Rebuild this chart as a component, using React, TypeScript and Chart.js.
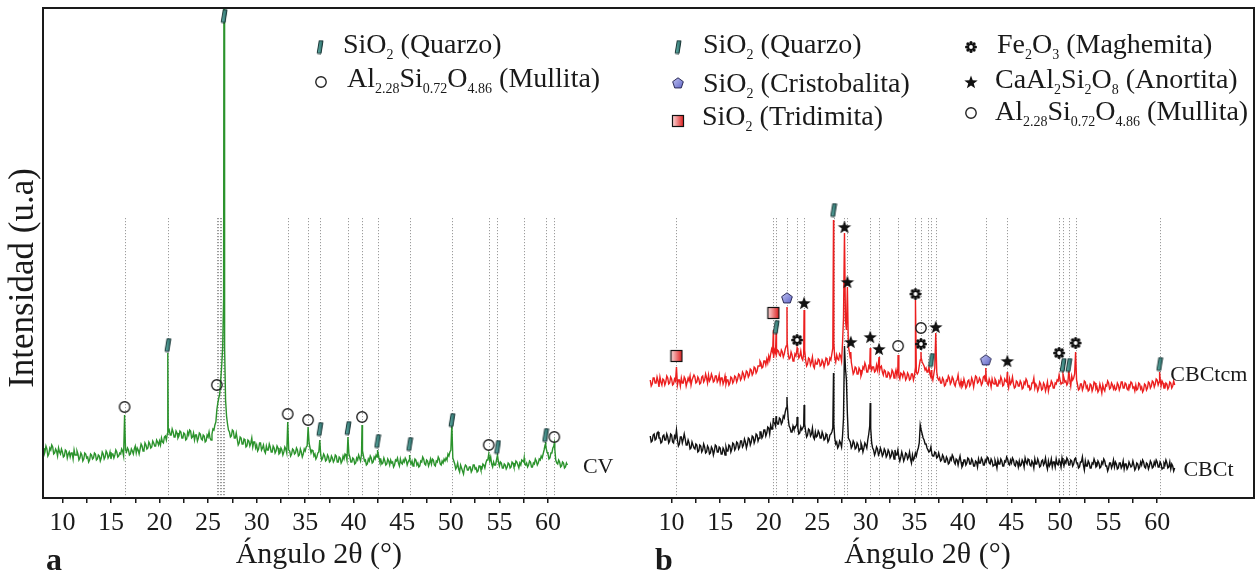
import { useEffect, useRef } from 'react';
import { Chart, registerables } from 'chart.js';

Chart.register(...registerables);

// ---- diffraction scans (0.1° step), intensities in arbitrary units ----
const SCAN_STEP = 0.1;
const CV_START = 8.0;
const CB_START = 7.8;

// CV (panel a), background counts from 8.0° to 62.0°
const CV_COUNTS = [
  50, 43, 46, 52, 49, 42, 44, 50, 48, 53, 51, 44, 45, 49, 47, 42, 50, 46, 44, 49,
  46, 41, 42, 48, 47, 40, 44, 46, 41, 45, 45, 39, 48, 43, 43, 47, 44, 38, 40, 45,
  43, 37, 39, 45, 44, 40, 41, 36, 38, 44, 43, 39, 40, 45, 44, 38, 39, 43, 42, 37,
  40, 46, 44, 39, 41, 47, 45, 40, 42, 46, 39, 44, 44, 40, 43, 48, 46, 41, 42, 45,
  44, 49, 47, 42, 43, 48, 46, 50, 48, 43, 44, 49, 47, 44, 49, 52, 45, 50, 48, 44,
  49, 54, 52, 47, 48, 55, 53, 49, 50, 56, 54, 50, 51, 57, 55, 52, 52, 58, 56, 53,
  57, 53, 60, 56, 55, 61, 62, 58, 64, 66, 68, 63, 63, 69, 66, 61, 61, 67, 65, 60,
  62, 67, 66, 60, 60, 65, 64, 58, 59, 66, 63, 68, 67, 60, 61, 65, 58, 63, 63, 57,
  60, 65, 64, 59, 58, 63, 62, 56, 57, 63, 61, 66, 60, 58, 64, 69, 68, 73, 76, 88,
  95, 100, 104, 118, 132, 150, 200, 150, 98, 82, 74, 68, 66, 61, 62, 68, 67, 60, 60, 65,
  59, 53, 55, 61, 60, 54, 54, 59, 58, 51, 52, 58, 57, 52, 55, 60, 51, 56, 56, 50,
  53, 47, 49, 55, 55, 48, 50, 53, 47, 45, 52, 48, 48, 54, 51, 46, 46, 52, 50, 45,
  47, 52, 50, 44, 45, 50, 48, 43, 46, 51, 49, 45, 52, 48, 47, 42, 44, 49, 48, 44,
  45, 50, 48, 42, 43, 49, 46, 41, 44, 49, 47, 51, 52, 58, 55, 50, 45, 48, 47, 42,
  44, 39, 41, 45, 46, 47, 43, 38, 40, 44, 42, 37, 38, 43, 41, 36, 37, 42, 40, 36,
  38, 43, 42, 36, 36, 41, 40, 35, 37, 42, 39, 44, 43, 38, 46, 44, 41, 36, 36, 40,
  39, 34, 35, 40, 38, 43, 40, 37, 44, 47, 42, 37, 38, 33, 34, 39, 37, 42, 40, 35,
  36, 41, 39, 43, 41, 45, 40, 36, 38, 34, 35, 40, 37, 33, 34, 39, 37, 33, 38, 35,
  36, 31, 33, 38, 37, 40, 35, 32, 39, 35, 34, 38, 36, 40, 38, 33, 36, 38, 37, 34,
  37, 32, 34, 39, 38, 33, 35, 31, 32, 37, 36, 41, 39, 34, 33, 38, 37, 32, 35, 39,
  34, 39, 38, 33, 32, 37, 36, 41, 39, 34, 33, 37, 35, 39, 37, 40, 38, 44, 42, 46,
  48, 60, 40, 37, 34, 29, 31, 35, 29, 26, 33, 30, 27, 24, 30, 33, 32, 28, 28, 31,
  31, 26, 28, 33, 33, 29, 30, 26, 27, 32, 32, 28, 29, 34, 33, 30, 35, 38, 38, 42,
  37, 41, 34, 31, 36, 33, 33, 38, 37, 36, 32, 36, 35, 30, 30, 34, 33, 29, 31, 35,
  34, 30, 31, 36, 35, 31, 32, 37, 36, 33, 30, 35, 33, 38, 37, 36, 34, 33, 35, 31,
  33, 37, 36, 31, 31, 35, 34, 39, 37, 33, 35, 39, 38, 42, 40, 44, 48, 53, 50, 46,
  44, 39, 40, 45, 45, 50, 52, 49, 38, 35, 34, 38, 36, 31, 32, 36, 35, 30, 31, 35,
  33,
];
// CV reflections: [2θ, intensity]
const CV_PEAKS: [number, number][] = [
  [16.4, 83], [20.85, 145], [26.64, 640], [33.2, 76], [35.3, 71], [36.5, 58],
  [39.4, 61], [40.85, 73], [42.45, 48], [45.75, 43], [50.1, 75], [53.9, 44],
  [54.8, 43], [57.55, 40], [59.75, 56], [60.65, 55],
];

// CBCtcm (panel b, upper trace), background counts from 7.8° to 61.8°
const CBCTCM_COUNTS = [
  58, 52, 54, 60, 60, 55, 55, 61, 57, 51, 61, 56, 53, 59, 58, 53, 56, 62, 60, 54,
  55, 61, 59, 53, 54, 59, 57, 63, 53, 58, 58, 52, 60, 55, 55, 61, 59, 52, 56, 60,
  57, 62, 53, 58, 58, 63, 61, 55, 56, 61, 59, 54, 55, 61, 62, 56, 58, 64, 60, 55,
  63, 57, 59, 64, 61, 56, 57, 62, 62, 56, 58, 63, 55, 60, 60, 54, 57, 62, 54, 58,
  58, 53, 55, 61, 60, 55, 57, 62, 61, 56, 59, 64, 63, 58, 60, 66, 64, 59, 62, 67,
  66, 61, 63, 69, 68, 63, 65, 71, 70, 65, 67, 72, 72, 77, 75, 70, 71, 77, 77, 73,
  79, 75, 82, 78, 84, 89, 86, 80, 88, 85, 84, 88, 87, 83, 82, 88, 86, 81, 84, 89,
  92, 96, 84, 79, 80, 86, 83, 77, 78, 84, 82, 88, 86, 80, 82, 87, 80, 78, 84, 88,
  78, 72, 74, 80, 79, 73, 76, 81, 72, 70, 77, 74, 74, 79, 78, 72, 73, 78, 76, 71,
  75, 80, 79, 73, 74, 80, 78, 84, 90, 95, 80, 76, 83, 79, 78, 84, 82, 77, 95, 120,
  130, 118, 108, 120, 92, 86, 80, 76, 70, 64, 66, 71, 70, 64, 64, 70, 68, 62, 65, 71,
  69, 75, 72, 66, 66, 72, 70, 74, 68, 71, 71, 66, 67, 73, 68, 75, 67, 71, 72, 66,
  63, 68, 67, 61, 61, 66, 65, 60, 62, 68, 66, 60, 64, 68, 62, 70, 62, 59, 65, 64,
  61, 66, 64, 58, 60, 65, 63, 58, 59, 64, 64, 58, 62, 70, 66, 64, 66, 72, 78, 80,
  76, 74, 72, 68, 70, 66, 67, 71, 64, 61, 62, 58, 64, 70, 68, 66, 60, 58, 60, 55,
  55, 60, 58, 52, 53, 58, 57, 62, 60, 54, 56, 61, 59, 54, 52, 57, 58, 63, 55, 52,
  57, 51, 53, 59, 55, 50, 52, 57, 58, 52, 54, 60, 57, 51, 57, 62, 61, 55, 56, 60,
  58, 53, 55, 61, 62, 57, 60, 55, 53, 59, 56, 51, 59, 55, 54, 59, 57, 52, 52, 57,
  55, 61, 58, 52, 53, 59, 57, 56, 54, 50, 59, 54, 56, 61, 54, 50, 51, 57, 56, 52,
  52, 57, 55, 49, 50, 56, 54, 59, 57, 51, 53, 48, 49, 55, 55, 60, 50, 54, 52, 47,
  50, 56, 54, 48, 49, 55, 53, 47, 51, 56, 47, 52, 52, 57, 55, 50, 50, 55, 54, 58,
  57, 60, 58, 54, 55, 58, 60, 56, 57, 53, 55, 60, 58, 52, 62, 58, 60, 64, 70, 58,
  53, 48, 49, 54, 54, 48, 51, 57, 56, 50, 52, 47, 48, 54, 53, 47, 50, 56, 55, 49,
  51, 46, 48, 54, 50, 45, 53, 49, 47, 53, 52, 57, 55, 49, 50, 55, 53, 49, 52, 48,
  49, 55, 53, 48, 51, 56, 56, 50, 50, 55, 54, 49, 48, 53, 52, 56, 55, 50, 51, 47,
  53, 48, 49, 55, 54, 49, 51, 46, 48, 54, 53, 48, 50, 56, 55, 50, 52, 57, 56, 51,
  54, 59, 58, 53, 56, 60, 52, 57, 55, 50, 50, 55, 54, 49, 51, 56, 55, 50, 52, 57,
  53,
];
const CBCTCM_PEAKS: [number, number][] = [
  [10.5, 71], [20.48, 108], [20.76, 106], [21.88, 131], [22.92, 90], [23.64, 128],
  [26.67, 218], [27.8, 205], [28.1, 151], [28.45, 86], [30.45, 90], [31.36, 81],
  [33.32, 83], [35.11, 138], [35.68, 86], [36.75, 68], [37.2, 105], [42.35, 70],
  [44.57, 66], [49.9, 63], [50.3, 64], [50.9, 68], [51.6, 86], [60.25, 66],
];

// CBCt (panel b, lower trace), background counts from 7.8° to 61.8°
const CBCT_COUNTS = [
  62, 56, 57, 63, 64, 58, 59, 65, 66, 60, 60, 55, 56, 62, 63, 58, 58, 64, 61, 55,
  57, 64, 63, 56, 55, 62, 60, 62, 58, 52, 54, 61, 61, 55, 59, 64, 59, 53, 53, 58,
  55, 49, 50, 56, 56, 50, 49, 54, 53, 46, 47, 53, 52, 46, 48, 54, 51, 45, 46, 52,
  50, 44, 45, 51, 49, 43, 47, 53, 52, 46, 46, 51, 50, 44, 44, 50, 48, 43, 51, 47,
  47, 53, 52, 46, 49, 55, 54, 48, 50, 56, 55, 49, 51, 57, 57, 51, 53, 59, 56, 50,
  54, 60, 59, 53, 56, 62, 61, 55, 58, 64, 63, 57, 60, 66, 66, 60, 62, 68, 68, 62,
  65, 71, 70, 64, 73, 69, 69, 76, 75, 72, 78, 74, 74, 80, 79, 74, 76, 82, 80, 86,
  90, 94, 80, 72, 70, 66, 66, 72, 69, 70, 72, 74, 70, 64, 65, 71, 68, 70, 72, 74,
  67, 61, 63, 69, 68, 62, 64, 70, 61, 59, 66, 61, 62, 67, 65, 60, 60, 66, 63, 58,
  59, 64, 62, 56, 58, 63, 64, 66, 70, 74, 60, 54, 56, 50, 52, 57, 55, 51, 62, 80,
  90, 130, 118, 84, 60, 58, 56, 50, 52, 57, 55, 49, 50, 55, 53, 47, 49, 55, 52, 46,
  50, 55, 53, 50, 58, 64, 72, 70, 55, 50, 48, 43, 46, 51, 49, 43, 45, 50, 47, 42,
  44, 49, 47, 41, 43, 48, 46, 40, 42, 47, 45, 39, 48, 43, 43, 48, 41, 37, 41, 46,
  42, 37, 40, 45, 44, 39, 41, 46, 39, 35, 43, 38, 40, 45, 42, 47, 50, 55, 60, 68,
  64, 60, 58, 54, 54, 50, 50, 46, 47, 51, 44, 42, 42, 46, 45, 40, 41, 45, 41, 37,
  38, 43, 41, 36, 36, 41, 39, 34, 35, 40, 38, 43, 41, 36, 34, 39, 38, 33, 38, 42,
  36, 31, 33, 38, 38, 33, 35, 40, 39, 34, 34, 39, 37, 32, 32, 37, 36, 31, 39, 35,
  35, 40, 38, 33, 33, 38, 36, 41, 40, 35, 34, 39, 37, 32, 33, 38, 35, 30, 38, 34,
  34, 39, 37, 32, 32, 37, 36, 41, 39, 34, 33, 38, 35, 40, 38, 33, 32, 37, 36, 31,
  37, 32, 33, 38, 36, 31, 40, 36, 34, 39, 38, 33, 32, 37, 35, 30, 39, 34, 34, 39,
  36, 31, 32, 37, 38, 33, 35, 40, 33, 29, 37, 32, 34, 39, 31, 36, 36, 31, 39, 34,
  33, 38, 36, 31, 40, 35, 32, 37, 35, 40, 38, 33, 33, 38, 37, 32, 34, 39, 40, 35,
  35, 30, 31, 36, 36, 41, 33, 28, 37, 32, 32, 37, 35, 30, 30, 35, 34, 39, 36, 31,
  32, 37, 35, 30, 31, 36, 34, 39, 37, 32, 32, 27, 30, 35, 35, 30, 33, 38, 31, 36,
  34, 29, 30, 35, 35, 30, 32, 37, 29, 34, 34, 29, 31, 36, 36, 31, 32, 37, 33, 28,
  30, 35, 34, 29, 31, 36, 33, 38, 36, 31, 30, 35, 34, 29, 32, 37, 35, 30, 31, 36,
  33, 38, 36, 31, 31, 36, 34, 29, 30, 35, 33, 38, 35, 30, 31, 36, 29, 34, 32, 27,
  30,
];
const CBCT_PEAKS: [number, number][] = [
  [10.5, 68], [20.48, 80], [20.76, 82], [21.88, 101], [22.92, 81], [23.64, 93],
  [26.67, 125], [27.8, 152], [30.45, 95], [35.6, 73],
];

// phase identification marks: [2θ, height of the mark]
const A_QUARTZ: [number, number][] = [
  [20.85, 153], [26.64, 482], [36.5, 69], [39.4, 70], [42.45, 57], [45.75, 54],
  [50.1, 78], [54.8, 51], [59.75, 63],
];
const A_MULLITE: [number, number][] = [
  [16.4, 91], [25.9, 113], [33.2, 84], [35.3, 78], [40.85, 81], [53.9, 53], [60.65, 61],
];
const B_QUARTZ: [number, number][] = [
  [20.76, 111], [26.67, 228], [36.75, 78], [50.3, 73], [50.9, 73], [60.25, 74],
];
const B_CRISTOBALITE: [number, number][] = [[21.88, 140], [42.35, 78]];
const B_TRIDYMITE: [number, number][] = [[10.5, 82], [20.48, 125]];
const B_MAGHEMITE: [number, number][] = [
  [22.92, 98], [35.11, 144], [35.68, 94], [49.9, 85], [51.6, 95],
];
const B_ANORTHITE: [number, number][] = [
  [23.64, 135], [27.8, 211], [28.1, 156], [28.45, 96], [30.45, 101], [31.36, 89],
  [37.2, 111], [44.57, 77],
];
const B_MULLITE: [number, number][] = [[33.32, 92], [35.68, 110]];

// dotted reference lines (2θ)
const REF_A = [
  16.4, 20.85, 25.9, 26.05, 26.2, 26.35, 26.5, 26.64, 33.2, 35.3, 36.5, 39.4, 40.85,
  42.45, 45.75, 50.1, 53.9, 54.8, 57.55, 59.75, 60.65,
];
const REF_B = [
  10.48, 20.48, 20.76, 21.88, 22.92, 23.64, 26.67, 27.8, 28.1, 30.45, 31.36, 33.32,
  35.11, 35.68, 36.37, 36.75, 37.2, 42.35, 44.57, 49.9, 50.3, 50.9, 51.6, 60.25,
];

// tick positions (2θ) for each panel
const TICK_ANGLES = [
  10, 12.5, 15, 17.5, 20, 22.5, 25, 27.5, 30, 32.5, 35, 37.5, 40, 42.5, 45, 47.5,
  50, 52.5, 55, 57.5, 60,
];

// ---- layout of the shared axis ----
const PANEL_B_SHIFT = 62.73; // panel b sits to the right on the same x axis
const PANEL_SPLIT = 66;
const X_MIN = 8;
const X_MAX = 132.7;
const Y_MAX = 490;
const CBCTCM_LIFT = 60; // vertical stacking of the CBCtcm trace
const REF_TOP = 280;

const SERIF = '"Liberation Serif", "Times New Roman", serif';
const INK = '#1a1a1a';

type Seg = [string, boolean];
const TXT_QUARZO: Seg[] = [['SiO', false], ['2', true], [' (Quarzo)', false]];
const TXT_MULLITA: Seg[] = [
  ['Al', false], ['2.28', true], ['Si', false], ['0.72', true], ['O', false], ['4.86', true],
  [' (Mullita)', false],
];
const TXT_CRISTO: Seg[] = [['SiO', false], ['2', true], [' (Cristobalita)', false]];
const TXT_TRIDI: Seg[] = [['SiO', false], ['2', true], [' (Tridimita)', false]];
const TXT_MAGHE: Seg[] = [['Fe', false], ['2', true], ['O', false], ['3', true], [' (Maghemita)', false]];
const TXT_ANORT: Seg[] = [
  ['CaAl', false], ['2', true], ['Si', false], ['2', true], ['O', false], ['8', true],
  [' (Anortita)', false],
];

function scan(start: number, counts: number[], peaks: [number, number][]) {
  const taken = new Set(peaks.map(([a]) => a.toFixed(2)));
  const pts = counts
    .map((c, i) => ({ x: Number((start + i * SCAN_STEP).toFixed(2)), y: c }))
    .filter((p) => !taken.has(p.x.toFixed(2)));
  for (const [a, c] of peaks) pts.push({ x: a, y: c });
  return pts.sort((p, q) => p.x - q.x);
}

function place(pts: { x: number; y: number }[], dx: number, dy: number) {
  return pts.map((p) => ({ x: p.x + dx, y: p.y + dy }));
}

function marks(list: [number, number][], dx: number, dy: number) {
  return list.map(([a, h]) => ({ x: a + dx, y: h + dy }));
}

function glyph(w: number, h: number, draw: (g: CanvasRenderingContext2D) => void) {
  const c = document.createElement('canvas');
  c.width = w;
  c.height = h;
  draw(c.getContext('2d')!);
  return c;
}

function makeGlyphs() {
  const quartz = glyph(8, 15, (g) => {
    const gr = g.createLinearGradient(0, 0, 8, 0);
    gr.addColorStop(0, '#73c4bb');
    gr.addColorStop(1, '#1d5c59');
    g.beginPath();
    g.moveTo(3.3, 1);
    g.lineTo(7, 1.3);
    g.lineTo(5, 14);
    g.lineTo(1.2, 13.7);
    g.closePath();
    g.fillStyle = gr;
    g.fill();
    g.lineWidth = 1;
    g.strokeStyle = '#163232';
    g.stroke();
  });
  const mullite = glyph(14, 14, (g) => {
    g.beginPath();
    g.arc(7, 7, 5.2, 0, Math.PI * 2);
    g.lineWidth = 1.4;
    g.strokeStyle = '#222';
    g.stroke();
  });
  const cristobalite = glyph(14, 14, (g) => {
    const gr = g.createLinearGradient(0, 0, 14, 14);
    gr.addColorStop(0, '#d0d2f8');
    gr.addColorStop(1, '#4f55c0');
    g.beginPath();
    for (let i = 0; i < 5; i++) {
      const a = -Math.PI / 2 + (i * 2 * Math.PI) / 5;
      const x = 7 + 5.6 * Math.cos(a);
      const y = 7.4 + 5.6 * Math.sin(a);
      if (i) g.lineTo(x, y);
      else g.moveTo(x, y);
    }
    g.closePath();
    g.fillStyle = gr;
    g.fill();
    g.lineWidth = 1;
    g.strokeStyle = '#2a2a55';
    g.stroke();
  });
  const tridymite = glyph(14, 14, (g) => {
    const gr = g.createLinearGradient(1, 0, 13, 0);
    gr.addColorStop(0, '#fde2e2');
    gr.addColorStop(1, '#dc1818');
    g.fillStyle = gr;
    g.fillRect(1.5, 1.5, 11, 11);
    g.lineWidth = 1.2;
    g.strokeStyle = '#111';
    g.strokeRect(1.5, 1.5, 11, 11);
  });
  const maghemite = glyph(14, 14, (g) => {
    g.fillStyle = '#111';
    g.beginPath();
    g.arc(7, 7, 3.8, 0, Math.PI * 2);
    g.fill();
    for (let i = 0; i < 8; i++) {
      const a = (i * Math.PI) / 4;
      g.beginPath();
      g.arc(7 + 4.4 * Math.cos(a), 7 + 4.4 * Math.sin(a), 1.6, 0, Math.PI * 2);
      g.fill();
    }
    g.fillStyle = '#fff';
    g.beginPath();
    g.arc(7, 7, 1.9, 0, Math.PI * 2);
    g.fill();
  });
  const anorthite = glyph(16, 16, (g) => {
    g.beginPath();
    for (let i = 0; i < 10; i++) {
      const r = i % 2 ? 2.9 : 7;
      const a = -Math.PI / 2 + (i * Math.PI) / 5;
      const x = 8 + r * Math.cos(a);
      const y = 8.6 + r * Math.sin(a);
      if (i) g.lineTo(x, y);
      else g.moveTo(x, y);
    }
    g.closePath();
    g.fillStyle = '#111';
    g.fill();
  });
  return { quartz, mullite, cristobalite, tridymite, maghemite, anorthite };
}

function drawRich(ctx: CanvasRenderingContext2D, x: number, base: number, segs: Seg[], size: number, sub: number) {
  let cx = x;
  for (const [t, isSub] of segs) {
    ctx.font = `${isSub ? sub : size}px ${SERIF}`;
    ctx.fillText(t, cx, isSub ? base + 6 : base);
    cx += ctx.measureText(t).width;
  }
}

function tickLabel(v: number) {
  const ang = v > PANEL_SPLIT ? v - PANEL_B_SHIFT : v;
  const r = Math.round(ang * 10) / 10;
  return r % 5 === 0 ? String(r) : '';
}

export default function App() {
  const ref = useRef<HTMLCanvasElement>(null);

  useEffect(() => {
    const G = makeGlyphs();
    const legend = [
      { g: G.quartz, gx: 320, gy: 47, tx: 343, ty: 53, text: TXT_QUARZO },
      { g: G.mullite, gx: 321, gy: 82, tx: 347, ty: 87, text: TXT_MULLITA },
      { g: G.quartz, gx: 678, gy: 47, tx: 703, ty: 53, text: TXT_QUARZO },
      { g: G.cristobalite, gx: 678, gy: 83, tx: 703, ty: 92, text: TXT_CRISTO },
      { g: G.tridymite, gx: 678, gy: 121, tx: 702, ty: 125, text: TXT_TRIDI },
      { g: G.maghemite, gx: 971, gy: 47, tx: 997, ty: 53, text: TXT_MAGHE },
      { g: G.anorthite, gx: 971, gy: 82, tx: 995, ty: 88, text: TXT_ANORT },
      { g: G.mullite, gx: 971, gy: 113, tx: 995, ty: 120, text: TXT_MULLITA },
    ];

    const decor = {
      id: 'xrdDecor',
      beforeDatasetsDraw(chart: Chart) {
        const { ctx, scales } = chart;
        const xs = scales.x;
        const ys = scales.y;
        ctx.save();
        ctx.strokeStyle = '#9c9c9c';
        ctx.lineWidth = 1;
        ctx.setLineDash([1.2, 1.8]);
        const y0 = ys.getPixelForValue(REF_TOP);
        const y1 = ys.getPixelForValue(0) - 2;
        const lines = [...REF_A, ...REF_B.map((a) => a + PANEL_B_SHIFT)];
        for (const v of lines) {
          const x = Math.round(xs.getPixelForValue(v)) + 0.5;
          ctx.beginPath();
          ctx.moveTo(x, y0);
          ctx.lineTo(x, y1);
          ctx.stroke();
        }
        ctx.restore();
      },
      afterDatasetsDraw(chart: Chart) {
        const { ctx, chartArea: a } = chart;
        ctx.save();
        ctx.strokeStyle = INK;
        ctx.lineWidth = 2;
        ctx.strokeRect(a.left, a.top, a.right - a.left, a.bottom - a.top);
        ctx.restore();
      },
      afterDraw(chart: Chart) {
        const { ctx, scales } = chart;
        const xs = scales.x;
        const ys = scales.y;
        ctx.save();
        ctx.fillStyle = INK;
        ctx.textBaseline = 'alphabetic';
        ctx.textAlign = 'left';
        for (const it of legend) {
          ctx.drawImage(it.g, it.gx - it.g.width / 2, it.gy - it.g.height / 2);
          drawRich(ctx, it.tx, it.ty, it.text, 28, 14);
        }
        // trace names
        ctx.font = `22px ${SERIF}`;
        ctx.fillText('CV', xs.getPixelForValue(63.6), ys.getPixelForValue(25));
        ctx.fillText('CBCtcm', xs.getPixelForValue(61.35 + PANEL_B_SHIFT), ys.getPixelForValue(117));
        ctx.fillText('CBCt', xs.getPixelForValue(62.7 + PANEL_B_SHIFT), ys.getPixelForValue(22));
        // axis titles
        ctx.textAlign = 'center';
        ctx.font = `30px ${SERIF}`;
        ctx.fillText('Ángulo 2θ (°)', xs.getPixelForValue(36.4), 563);
        ctx.fillText('Ángulo 2θ (°)', xs.getPixelForValue(36.35 + PANEL_B_SHIFT), 563);
        ctx.textAlign = 'left';
        ctx.font = `bold 32px ${SERIF}`;
        ctx.fillText('a', 46, 570);
        ctx.fillText('b', 655, 570);
        ctx.translate(33, 278);
        ctx.rotate(-Math.PI / 2);
        ctx.textAlign = 'center';
        ctx.font = `35px ${SERIF}`;
        ctx.fillText('Intensidad (u.a)', 0, 0);
        ctx.restore();
      },
    };

    const line = (label: string, data: { x: number; y: number }[], color: string) => ({
      label,
      data,
      showLine: true,
      borderColor: color,
      borderWidth: 1.4,
      pointRadius: 0,
      tension: 0,
    });
    const mark = (label: string, data: { x: number; y: number }[], g: HTMLCanvasElement) => ({
      label,
      data,
      showLine: false,
      pointStyle: g,
      pointRadius: 5,
    });

    const chart = new Chart(ref.current!, {
      type: 'scatter',
      data: {
        datasets: [
          mark('Quarzo a', marks(A_QUARTZ, 0, 0), G.quartz),
          mark('Mullita a', marks(A_MULLITE, 0, 0), G.mullite),
          mark('Quarzo b', marks(B_QUARTZ, PANEL_B_SHIFT, CBCTCM_LIFT), G.quartz),
          mark('Cristobalita', marks(B_CRISTOBALITE, PANEL_B_SHIFT, CBCTCM_LIFT), G.cristobalite),
          mark('Tridimita', marks(B_TRIDYMITE, PANEL_B_SHIFT, CBCTCM_LIFT), G.tridymite),
          mark('Maghemita', marks(B_MAGHEMITE, PANEL_B_SHIFT, CBCTCM_LIFT), G.maghemite),
          mark('Anortita', marks(B_ANORTHITE, PANEL_B_SHIFT, CBCTCM_LIFT), G.anorthite),
          mark('Mullita b', marks(B_MULLITE, PANEL_B_SHIFT, CBCTCM_LIFT), G.mullite),
          line('CBCtcm', place(scan(CB_START, CBCTCM_COUNTS, CBCTCM_PEAKS), PANEL_B_SHIFT, CBCTCM_LIFT), '#ec1f1f'),
          line('CBCt', place(scan(CB_START, CBCT_COUNTS, CBCT_PEAKS), PANEL_B_SHIFT, 0), '#111111'),
          line('CV', scan(CV_START, CV_COUNTS, CV_PEAKS), '#2b932c'),
        ],
      },
      options: {
        responsive: false,
        animation: false,
        events: [],
        layout: { padding: { left: 43, right: 2, top: 8, bottom: 0 } },
        plugins: { legend: { display: false }, tooltip: { enabled: false } },
        scales: {
          x: {
            type: 'linear',
            min: X_MIN,
            max: X_MAX,
            afterBuildTicks: (scale: any) => {
              scale.ticks = [
                ...TICK_ANGLES.map((v) => ({ value: v })),
                ...TICK_ANGLES.map((v) => ({ value: v + PANEL_B_SHIFT })),
              ];
            },
            afterFit: (scale: any) => {
              scale.height = 75;
            },
            grid: {
              display: true,
              drawOnChartArea: false,
              drawTicks: true,
              tickLength: 5,
              color: INK,
              lineWidth: 1.5,
            },
            border: { display: false },
            ticks: {
              autoSkip: false,
              maxRotation: 0,
              minRotation: 0,
              padding: 5,
              color: INK,
              font: { family: SERIF, size: 26 },
              callback: (v: any) => tickLabel(Number(v)),
            },
          },
          y: {
            type: 'linear',
            display: false,
            min: 0,
            max: Y_MAX,
          },
        },
      },
      plugins: [decor],
    } as any);

    return () => chart.destroy();
  }, []);

  return (
    <div style={{ position: 'absolute', left: 0, top: 0, width: 1260, height: 573, background: '#fff' }}>
      <canvas ref={ref} width={1260} height={573} style={{ display: 'block' }} />
    </div>
  );
}
